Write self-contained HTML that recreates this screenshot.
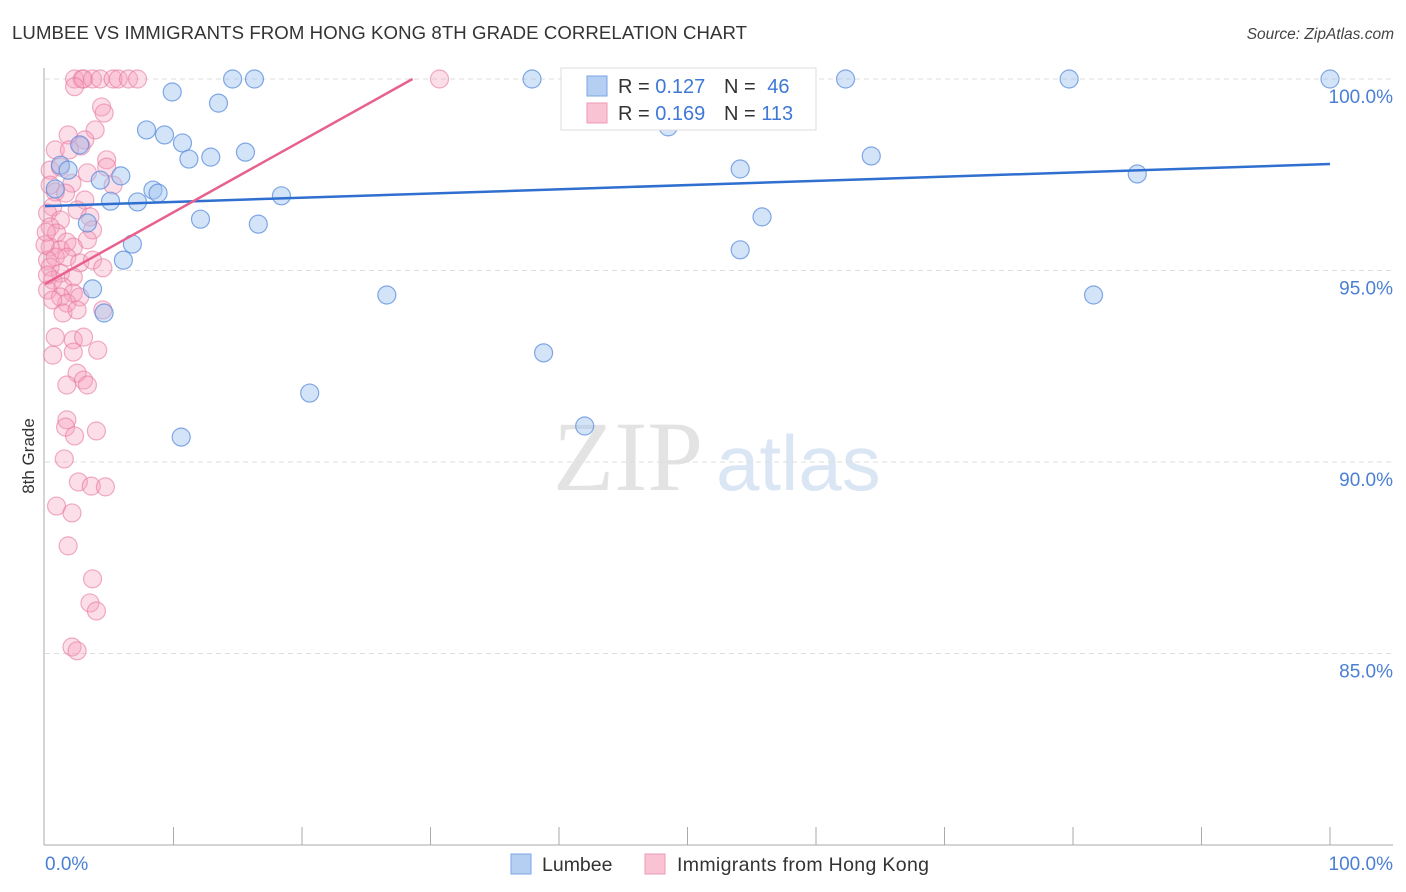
<!DOCTYPE html>
<html><head><meta charset="utf-8"><style>
body{margin:0;background:#fff;width:1406px;height:892px;overflow:hidden;font-family:"Liberation Sans",sans-serif}
svg{display:block}
</style></head><body>
<svg id="chart" width="1406" height="892">
<text x="12" y="39" font-size="18.6" fill="#333" textLength="735">LUMBEE VS IMMIGRANTS FROM HONG KONG 8TH GRADE CORRELATION CHART</text>
<text x="1394" y="39" font-size="15.5" fill="#444" font-style="italic" text-anchor="end">Source: ZipAtlas.com</text>
<g>
<text x="553" y="490" font-family="Liberation Serif,serif" font-size="100" fill="#e3e3e3">ZIP</text>
<text x="716" y="490" font-size="78" fill="#dbe6f5">atlas</text>
</g>
<g id="grid"></g>
<g id="axes"></g>
<g id="pinkpts"></g>
<g id="bluepts"></g>
<g id="lines"></g>
<text x="34" y="456" font-size="17" fill="#333" transform="rotate(-90 34 456)" text-anchor="middle">8th Grade</text>
<g>
<rect x="561" y="68" width="255" height="62" fill="#fff" stroke="#ddd"/>
<rect x="587" y="76" width="20" height="20" fill="#b5cff3" stroke="#7aa6e6"/>
<rect x="587" y="103" width="20" height="20" fill="#f9c3d4" stroke="#ee9ab5"/>
<text x="618" y="93" font-size="20" fill="#333">R = <tspan fill="#3f78d6">0.127</tspan></text>
<text x="724" y="93" font-size="20" fill="#333">N = <tspan fill="#3f78d6" dx="6">46</tspan></text>
<text x="618" y="120" font-size="20" fill="#333">R = <tspan fill="#3f78d6">0.169</tspan></text>
<text x="724" y="120" font-size="20" fill="#333">N = <tspan fill="#3f78d6">113</tspan></text>
</g>
<g>
<rect x="511" y="854" width="20" height="20" fill="#b5cff3" stroke="#7aa6e6"/>
<text x="542" y="871" font-size="19.5" fill="#333">Lumbee</text>
<rect x="645" y="854" width="20" height="20" fill="#f9c3d4" stroke="#ee9ab5"/>
<text x="677" y="871" font-size="19.5" fill="#333" textLength="252">Immigrants from Hong Kong</text>
</g>
</svg>
<script>
const yTicks=[100,95,90,85];
const yTickLabels=["100.0%","95.0%","90.0%","85.0%"];
const xTickLabels=["0.0%","100.0%"];
const blueX=[14.6,16.3,37.9,62.3,79.7,100,9.9,13.5,7.9,9.3,10.7,11.2,12.9,15.6,48.5,64.3,54.1,85.0,1.2,1.8,5.9,4.3,0.8,8.4,8.8,18.4,5.1,7.2,12.1,16.6,55.8,3.3,6.8,54.1,6.1,3.7,4.6,26.6,81.6,38.8,20.6,10.6,42.0,2.7];
const blueY=[100,100,100,100,100,100,99.66,99.37,98.67,98.54,98.33,97.91,97.96,98.09,98.75,97.99,97.65,97.52,97.75,97.62,97.47,97.36,97.13,97.10,97.02,96.95,96.81,96.79,96.34,96.21,96.40,96.24,95.69,95.54,95.27,94.52,93.89,94.36,94.36,92.85,91.80,90.65,90.94,98.28];
const pinkX=[2.3,2.9,3.0,3.7,4.3,5.3,5.7,6.5,7.2,30.7,2.3,4.4,4.6,3.9,1.8,3.1,2.8,0.8,1.9,4.8,0.4,1.2,3.3,2.1,0.8,4.8,5.3,3.1,0.6,1.6,2.5,3.5,0.2,1.2,3.7,3.3,0.4,0.9,1.7,0.4,1.2,2.2,0.2,0.8,1.7,2.7,3.7,4.5,0.4,1.2,2.2,0.6,1.4,0.2,2.2,1.2,1.7,2.7,0.6,1.4,2.5,4.5,0.8,2.2,3.0,0.6,2.2,4.1,2.5,3.0,3.3,1.7,1.7,1.6,2.3,4.0,1.5,2.6,3.6,4.7,0.9,2.1,1.8,3.7,3.5,4.0,2.1,2.5,0.0,0.2,0.1,0.4];
const pinkY=[100,100,100,100,100,100,100,100,100,100,99.8,99.27,99.11,98.67,98.54,98.41,98.25,98.15,98.15,97.89,97.62,97.70,97.55,97.28,97.05,97.70,97.23,96.84,96.66,97.02,96.58,96.40,96.50,96.32,96.06,95.80,96.14,95.98,95.74,95.61,95.54,95.61,95.27,95.35,95.35,95.20,95.27,95.07,95.09,94.93,94.83,94.75,94.57,94.49,94.41,94.31,94.15,94.31,94.23,93.89,93.97,93.97,93.26,93.19,93.26,92.79,92.87,92.92,92.32,92.14,92.01,92.01,91.10,90.91,90.68,90.81,90.08,89.48,89.37,89.35,88.85,88.67,87.81,86.95,86.32,86.11,85.17,85.07,95.67,94.88,96.0,97.23];
const blueTrend=[96.68,97.78];
const pinkTrend=[94.65,100,28.6];
const NS="http://www.w3.org/2000/svg";
const X=v=>45+v*12.85;
const Y=v=>79+(100-v)*38.3;
function mk(tag,attrs,parent){const e=document.createElementNS(NS,tag);for(const k in attrs)e.setAttribute(k,attrs[k]);parent.appendChild(e);return e;}
const grid=document.getElementById('grid'),axes=document.getElementById('axes');
yTicks.forEach((t,i)=>{
  const l=mk('line',{x1:45,x2:1393,y1:Y(t),y2:Y(t),stroke:'#ddd','stroke-dasharray':'5,4'},grid);
  
  
  const tx=mk('text',{x:1393,y:Y(t)+24,'font-size':19,fill:'#4a7fd4','text-anchor':'end'},axes);
  tx.textContent=yTickLabels[i];
  
  
});
let a=mk('line',{x1:44,x2:44,y1:68,y2:845,stroke:'#aaa'},axes);


a=mk('line',{x1:44,x2:1393,y1:845,y2:845,stroke:'#aaa'},axes);


for(let i=1;i<=10;i++){
  const t=mk('line',{x1:X(i*10),x2:X(i*10),y1:827,y2:845,stroke:'#aaa'},axes);
  
  
}
let xl=mk('text',{x:45,y:870,'font-size':19,fill:'#4a7fd4'},axes);xl.textContent=xTickLabels[0];


xl=mk('text',{x:1393,y:870,'font-size':19,fill:'#4a7fd4','text-anchor':'end'},axes);xl.textContent=xTickLabels[1];


const pg=document.getElementById('pinkpts');
pinkX.forEach((v,i)=>{
  const c=mk('circle',{cx:X(v),cy:Y(pinkY[i]),r:9,fill:'rgba(245,160,190,0.35)',stroke:'rgba(230,120,160,0.6)','stroke-width':1.2},pg);
  
  
});
const bg=document.getElementById('bluepts');
blueX.forEach((v,i)=>{
  const c=mk('circle',{cx:X(v),cy:Y(blueY[i]),r:9,fill:'rgba(160,196,240,0.45)',stroke:'rgba(90,140,220,0.75)','stroke-width':1.2},bg);
  
  
});
const lg=document.getElementById('lines');
let ln=mk('line',{x1:X(0),y1:Y(blueTrend[0]),x2:X(100),y2:Y(blueTrend[1]),stroke:'#2f6fd0','stroke-width':2.5},lg);


ln=mk('line',{x1:X(0),y1:Y(pinkTrend[0]),x2:X(pinkTrend[2]),y2:Y(pinkTrend[1]),stroke:'#e8608e','stroke-width':2.5},lg);


</script>
</body></html>
